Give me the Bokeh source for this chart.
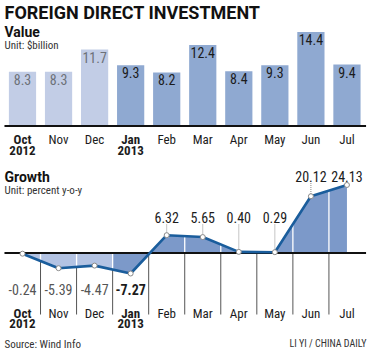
import numpy as np
from bokeh.plotting import figure
from bokeh.models import Range1d, Label
from bokeh.core.properties import value
from bokeh.embed import file_html
from bokeh.resources import INLINE

# ---------------- data ----------------
months = ["Oct", "Nov", "Dec", "Jan", "Feb", "Mar", "Apr", "May", "Jun", "Jul"]
years = ["2012", "", "", "2013", "", "", "", "", "", ""]
fdi_value = [8.3, 8.3, 11.7, 9.3, 8.2, 12.4, 8.4, 9.3, 14.4, 9.4]
fdi_growth = [-0.24, -5.39, -4.47, -7.27, 6.32, 5.65, 0.40, 0.29, 20.12, 24.13]
value_labels = ["8.3", "8.3", "11.7", "9.3", "8.2", "12.4", "8.4", "9.3", "14.4", "9.4"]
growth_labels = ["-0.24", "-5.39", "-4.47", "-7.27", "6.32", "5.65", "0.40", "0.29", "20.12", "24.13"]
n_2012 = 3  # Oct-Dec 2012 shown lighter

# ---------------- layout constants (pixels) ----------------
W, H = 372, 352
X0_PX, STEP_PX = 22.0, 36.05
TOP_ZERO_PX, TOP_SCALE = 125.5, 6.53
GR_ZERO_PX, GR_SCALE = 252.5, 2.82

FONT = "'Liberation Sans Narrow', 'Roboto Condensed', 'Open Sans', sans-serif"
HEAD = "'Roboto', 'Open Sans', sans-serif"


def vy(px):  # screen px (from top) -> value units
    return (TOP_ZERO_PX - px) / TOP_SCALE


def gy(px):  # screen px (from top) -> growth units
    return (GR_ZERO_PX - px) / GR_SCALE


xs = np.arange(len(months), dtype=float)

p = figure(width=W, height=H, output_backend="svg", toolbar_location=None,
           x_axis_type=None, y_axis_type=None, min_border=0,
           x_range=Range1d(-X0_PX / STEP_PX, (W - X0_PX) / STEP_PX),
           y_range=Range1d(-(H - GR_ZERO_PX) / GR_SCALE, GR_ZERO_PX / GR_SCALE))
p.extra_y_ranges = {"value": Range1d(-(H - TOP_ZERO_PX) / TOP_SCALE, TOP_ZERO_PX / TOP_SCALE)}
p.outline_line_color = None
p.grid.visible = False
p.background_fill_color = "white"
p.border_fill_color = "white"

# ---------------- top: bars ----------------
bar_colors = ["#c2cde6" if i < n_2012 else "#8fa9d1" for i in range(len(months))]
p.vbar(x=xs, top=fdi_value, bottom=0, width=0.755, fill_color=bar_colors,
       line_color=None, y_range_name="value")
lab_colors = ["#6d7178" if i < n_2012 else "#1c1c1c" for i in range(len(months))]
p.text(x=xs, y=fdi_value, text=value_labels, y_range_name="value",
       text_align="center", text_baseline="top", y_offset=2,
       text_font=value(FONT), text_font_size="14px", text_color=lab_colors)
p.segment(x0=[-0.5], x1=[9.53], y0=[0], y1=[0], line_color="#111111",
          line_width=2, y_range_name="value")

# month labels for top chart
styles = ["bold" if y else "normal" for y in years]
p.text(x=xs, y=[vy(131.5)] * len(xs), text=months, y_range_name="value",
       text_align="center", text_baseline="top", text_font=value(FONT),
       text_font_size="13px", text_color="#1c1c1c", text_font_style=styles)
p.text(x=xs, y=[vy(145)] * len(xs), text=years, y_range_name="value",
       text_align="center", text_baseline="top", text_font=value(FONT),
       text_font_size="13px", text_color="#1c1c1c", text_font_style="bold")

# ---------------- bottom: growth area ----------------
bounds = xs[:-1] + 0.5
bound_vals = np.interp(bounds, xs, fdi_growth)

# gray separators below zero line
p.segment(x0=bounds, x1=bounds, y0=[0] * len(bounds), y1=[gy(314)] * len(bounds),
          line_color="#555555", line_width=1)

split = n_2012 - 0.5
split_val = float(np.interp(split, xs, fdi_growth))
lx = list(xs[:n_2012]) + [split]
ly = list(fdi_growth[:n_2012]) + [split_val]
dx = [split] + list(xs[n_2012:])
dy = [split_val] + list(fdi_growth[n_2012:])
p.varea(x=lx, y1=[0] * len(lx), y2=ly, fill_color="#b3c3e3")
p.varea(x=dx, y1=[0] * len(dx), y2=dy, fill_color="#7c99c9")

# white separators inside fill
p.segment(x0=bounds, x1=bounds, y0=[0] * len(bounds), y1=bound_vals,
          line_color="white", line_width=1.3)

p.segment(x0=[-0.5], x1=[9.53], y0=[0], y1=[0], line_color="#111111", line_width=2)

# leaders for positive values
pos_idx = [i for i, v in enumerate(fdi_growth) if v > 0]
label_px = {i: (175.5 if fdi_growth[i] > 15 else 217.0) for i in pos_idx}
p.segment(x0=[xs[i] for i in pos_idx], x1=[xs[i] for i in pos_idx],
          y0=[gy(label_px[i] + 7) for i in pos_idx], y1=[fdi_growth[i] for i in pos_idx],
          line_color="#8a8a8a", line_width=1, line_dash="1 1")

p.line(x=xs, y=fdi_growth, line_color="#1a5d9c", line_width=2.6, line_join="round")
p.scatter(x=xs, y=fdi_growth, size=5, fill_color="white", line_color="#8a8a8a",
          line_width=1)

# value labels
p.text(x=[xs[i] for i in pos_idx], y=[gy(label_px[i]) for i in pos_idx],
       text=[growth_labels[i] for i in pos_idx], text_align="center",
       text_baseline="middle", text_font=value(FONT), text_font_size="14px",
       text_color="#1c1c1c")
neg_idx = [i for i, v in enumerate(fdi_growth) if v <= 0]
neg_style = ["bold" if years[i] == "2013" else "normal" for i in neg_idx]
neg_col = ["#1c1c1c" if years[i] == "2013" else "#555555" for i in neg_idx]
p.text(x=[xs[i] for i in neg_idx], y=[gy(288.5)] * len(neg_idx),
       text=[growth_labels[i] for i in neg_idx], text_align="center",
       text_baseline="middle", text_font=value(FONT), text_font_size="14px",
       text_color=neg_col, text_font_style=neg_style)

# month labels bottom
p.text(x=xs, y=[gy(305)] * len(xs), text=months, text_align="center",
       text_baseline="top", text_font=value(FONT), text_font_size="13px",
       text_color="#1c1c1c", text_font_style=styles)
p.text(x=xs, y=[gy(318.5)] * len(xs), text=years, text_align="center",
       text_baseline="top", text_font=value(FONT), text_font_size="13px",
       text_color="#1c1c1c", text_font_style="bold")


# ---------------- titles (screen units) ----------------
def add_label(txt, x, ytop, size, style="normal", color="#111111", font=HEAD, align="left"):
    p.add_layout(Label(x=x, y=H - ytop, x_units="screen", y_units="screen", text=txt,
                       text_font=font, text_font_size=size, text_font_style=style,
                       text_color=color, text_baseline="top", text_align=align))


add_label("FOREIGN DIRECT INVESTMENT", 4, 1, "18px", "bold", "#111111")
add_label("Value", 4, 23, "14px", "bold", "#111111")
add_label("Unit: $billion", 4, 38, "11px", "normal", "#333333", FONT)
add_label("Growth", 4, 168, "14px", "bold", "#111111")
add_label("Unit: percent y-o-y", 4, 183, "11px", "normal", "#333333", FONT)
add_label("Source: Wind Info", 4, 337, "11px", "normal", "#333333", FONT)
add_label("LI YI / CHINA DAILY", 366, 337, "10px", "normal", "#333333", FONT, "right")

open("out.html", "w").write(file_html(p, INLINE))
